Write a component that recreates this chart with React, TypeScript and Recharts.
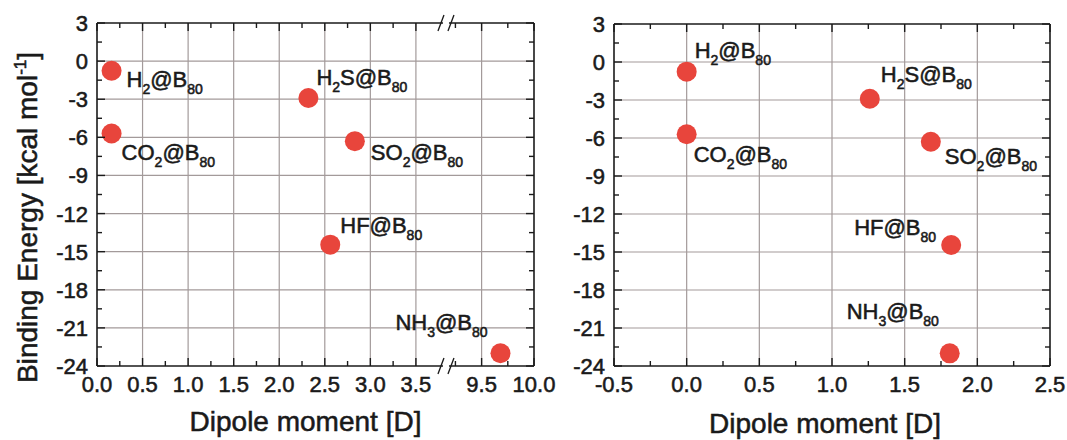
import React from 'react';
import { ScatterChart, Scatter, XAxis, YAxis, ReferenceLine, Label } from 'recharts';

const FONT = '"Liberation Sans", Arial, Helvetica, sans-serif';
const INK = '#1a1a1a';
const GRID = '#a39a9a';
const DOT = '#e8453c';
const TEXT_STROKE = 0.55;

// ---------------- data ----------------
const molecules = ['H2', 'CO2', 'H2S', 'SO2', 'HF', 'NH3'];
const cage = 'B80';
const bindingEnergy = [-0.76, -5.7, -2.9, -6.3, -14.45, -23.0];
const dipoleLeft = [0.16, 0.16, 2.32, 2.83, 2.56, 9.68];
const dipoleRight = [0.0, 0.0, 1.26, 1.68, 1.82, 1.81];

const yMajorTicks = [3, 0, -3, -6, -9, -12, -15, -18, -21, -24];
const yMinorTicks = [1.5, -1.5, -4.5, -7.5, -10.5, -13.5, -16.5, -19.5, -22.5];
const leftXMajorTicks = [0, 0.5, 1, 1.5, 2, 2.5, 3, 3.5, 9.5, 10];
const leftXMinorTicks = [0.25, 0.75, 1.25, 1.75, 2.25, 2.75, 3.25, 9.25, 9.75];
const rightXMajorTicks = [-0.5, 0, 0.5, 1, 1.5, 2, 2.5];
const rightXMinorTicks = [-0.25, 0.25, 0.75, 1.25, 1.75, 2.25];
const leftXDomain = [0, 10];
const rightXDomain = [-0.5, 2.5];
const yDomain = [-24, 3];
const axisBreak = [3.83, 9.16];
const xTitle = 'Dipole moment [D]';
const yTitle = 'Binding Energy [kcal mol';
const yTitleSup = '-1';
const yTitleEnd = ']';

// ---------------- layout / style ----------------
const BREAK_STRETCH = 1.15;
const leftLabelOffsets = [[15, 16], [10, 26], [8, -13], [16, 19], [10, -12], [-105, -23]];
const rightLabelOffsets = [[8, -14], [7, 28], [11, -17], [14, 22], [-97, -10], [-103, -34]];

const toBroken = (v: number) => (v <= axisBreak[0] ? v : axisBreak[0] + (v - axisBreak[1]) * BREAK_STRETCH);
const fromBroken = (t: number) => (t <= axisBreak[0] + 1e-9 ? t : axisBreak[1] + (t - axisBreak[0]) / BREAK_STRETCH);
const near = (a: number, b: number) => Math.abs(a - b) < 1e-6;

const txtStyle = { fontFamily: FONT, fill: INK, stroke: INK, strokeWidth: TEXT_STROKE };

function makeTick(orient: string, majors: number[], fmt?: (v: number) => string, breakAt?: number) {
  return function Tick(props: any) {
    const { x, y, payload } = props;
    const v = payload.value;
    if (breakAt !== undefined && near(v, breakAt)) {
      return (
        <g>
          <rect x={x - 3} y={y - 2.5} width={6} height={5} fill="#fff" />
          <line x1={x - 8} y1={y + 8} x2={x - 2} y2={y - 8} stroke={INK} strokeWidth={1.3} />
          <line x1={x + 2} y1={y + 8} x2={x + 8} y2={y - 8} stroke={INK} strokeWidth={1.3} />
        </g>
      );
    }
    const major = majors.some((m) => near(m, v));
    const len = major ? 8 : 5;
    const st = { stroke: INK, strokeWidth: 1.4 };
    let tick: any = null;
    let label: any = null;
    if (orient === 'bottom') {
      tick = <line x1={x} y1={y} x2={x} y2={y - len} {...st} />;
      if (major && fmt)
        label = (
          <text x={x} y={y + 26} textAnchor="middle" fontSize={22} {...txtStyle}>
            {fmt(v)}
          </text>
        );
    } else if (orient === 'top') {
      tick = <line x1={x} y1={y} x2={x} y2={y + len} {...st} />;
    } else if (orient === 'left') {
      tick = <line x1={x} y1={y} x2={x + len} y2={y} {...st} />;
      if (major && fmt)
        label = (
          <text x={x - 9} y={y + 8} textAnchor="end" fontSize={22} {...txtStyle}>
            {fmt(v)}
          </text>
        );
    } else {
      tick = <line x1={x} y1={y} x2={x - len} y2={y} {...st} />;
    }
    return (
      <g>
        {tick}
        {label}
      </g>
    );
  };
}

function ChemLabel({ x, y, text }: { x: number; y: number; text: string }) {
  const segs = text.split(/(\d+)/).filter(Boolean);
  let shift = 0;
  return (
    <text x={x} y={y} fontSize={22} {...txtStyle}>
      {segs.map((s, i) => {
        const sub = /^\d+$/.test(s);
        const target = sub ? 7 : 0;
        const dy = target - shift;
        shift = target;
        return (
          <tspan key={i} dy={dy} fontSize={sub ? 14 : 22}>
            {s}
          </tspan>
        );
      })}
    </text>
  );
}

function makeShape(offsets: number[][]) {
  return function Dot(props: any) {
    const { cx, cy, payload } = props;
    const off = offsets[payload.idx];
    return (
      <g>
        <circle cx={cx} cy={cy} r={10} fill={DOT} />
        <ChemLabel x={cx + off[0]} y={cy + off[1]} text={payload.name} />
      </g>
    );
  };
}

const Nothing = () => <g />;

const xTitleContent = (dx: number, dy: number) => (props: any) => {
  const vb = props.viewBox;
  return (
    <text x={vb.x + vb.width / 2 + dx} y={vb.y + dy} textAnchor="middle" fontSize={28} {...txtStyle}>
      {xTitle}
    </text>
  );
};

const yTitleContent = (props: any) => {
  const vb = props.viewBox;
  const cx = 37;
  const cy = vb.y + vb.height + 17;
  return (
    <text transform={`translate(${cx}, ${cy}) rotate(-90)`} textAnchor="start" fontSize={28} {...txtStyle}>
      {yTitle}
      <tspan dy={-11} fontSize={17}>
        {yTitleSup}
      </tspan>
      <tspan dy={11}>{yTitleEnd}</tspan>
    </text>
  );
};

const fmt1 = (v: number) => v.toFixed(1);
const fmtY = (v: number) => String(v);

const leftData = molecules.map((m, i) => ({ x: toBroken(dipoleLeft[i]), y: bindingEnergy[i], idx: i, name: `${m}@${cage}` }));
const rightData = molecules.map((m, i) => ({ x: dipoleRight[i], y: bindingEnergy[i], idx: i, name: `${m}@${cage}` }));

const leftMajorT = leftXMajorTicks.map(toBroken);
const leftTicksT = [...leftXMajorTicks, ...leftXMinorTicks].map(toBroken).concat([axisBreak[0]]).sort((a, b) => a - b);
const leftDomainT = [toBroken(leftXDomain[0]), toBroken(leftXDomain[1])];
const yTicks = [...yMajorTicks, ...yMinorTicks].sort((a, b) => a - b);
const rightXTicks = [...rightXMajorTicks, ...rightXMinorTicks].sort((a, b) => a - b);
const yGrid = yMajorTicks.filter((v) => v !== yDomain[0] && v !== yDomain[1]);
const leftXGrid = leftXMajorTicks.filter((v) => v !== leftXDomain[0] && v !== leftXDomain[1]).map(toBroken);
const rightXGrid = rightXMajorTicks.filter((v) => v !== rightXDomain[0] && v !== rightXDomain[1]);

const axisLine = { stroke: INK, strokeWidth: 1.6 };

function Panel({
  width,
  margin,
  xDomain,
  xTicks,
  xMajors,
  xFmt,
  breakAt,
  yWidth,
  xGrid,
  data,
  offsets,
  titleDx,
  titleDy,
  withYTitle,
}: any) {
  return (
    <ScatterChart width={width} height={440} margin={margin}>
      <XAxis
        dataKey="x"
        type="number"
        domain={xDomain}
        ticks={xTicks}
        interval={0}
        height={74}
        tickSize={0}
        tickMargin={0}
        tickLine={false}
        axisLine={axisLine}
        tick={makeTick('bottom', xMajors, xFmt, breakAt)}
        allowDataOverflow
      >
        <Label content={xTitleContent(titleDx, titleDy)} />
      </XAxis>
      <XAxis
        xAxisId="top"
        orientation="top"
        dataKey="x"
        type="number"
        domain={xDomain}
        ticks={xTicks}
        interval={0}
        height={1}
        tickSize={0}
        tickMargin={0}
        tickLine={false}
        axisLine={axisLine}
        tick={makeTick('top', xMajors, undefined, breakAt)}
        allowDataOverflow
      />
      <YAxis
        dataKey="y"
        type="number"
        domain={yDomain}
        ticks={yTicks}
        interval={0}
        width={yWidth}
        tickSize={0}
        tickMargin={0}
        tickLine={false}
        axisLine={axisLine}
        tick={makeTick('left', yMajorTicks, fmtY)}
        allowDataOverflow
      >
        {withYTitle ? <Label content={yTitleContent} /> : null}
      </YAxis>
      <YAxis
        yAxisId="right"
        orientation="right"
        dataKey="y"
        type="number"
        domain={yDomain}
        ticks={yTicks}
        interval={0}
        width={1}
        tickSize={0}
        tickMargin={0}
        tickLine={false}
        axisLine={axisLine}
        tick={makeTick('right', yMajorTicks)}
        allowDataOverflow
      />
      {xGrid.map((v: number) => (
        <ReferenceLine key={'gx' + v} x={v} stroke={GRID} strokeWidth={1.2} />
      ))}
      {yGrid.map((v: number) => (
        <ReferenceLine key={'gy' + v} y={v} stroke={GRID} strokeWidth={1.2} />
      ))}
      <Scatter xAxisId="top" yAxisId="right" data={data} isAnimationActive={false} shape={Nothing} />
      <Scatter data={data} isAnimationActive={false} shape={makeShape(offsets)} />
    </ScatterChart>
  );
}

export default function App() {
  return (
    <div style={{ position: 'absolute', left: 0, top: 0, width: 1067, height: 440, background: '#fff' }}>
      <div style={{ position: 'absolute', left: 0, top: 0 }}>
        <Panel
          width={560}
          margin={{ top: 22, right: 25, bottom: 0, left: 0 }}
          xDomain={leftDomainT}
          xTicks={leftTicksT}
          xMajors={leftMajorT}
          xFmt={(t: number) => fmt1(fromBroken(t))}
          breakAt={axisBreak[0]}
          yWidth={97}
          xGrid={leftXGrid}
          data={leftData}
          offsets={leftLabelOffsets}
          titleDx={-10}
          titleDy={65}
          withYTitle
        />
      </div>
      <div style={{ position: 'absolute', left: 560, top: 0 }}>
        <Panel
          width={507}
          margin={{ top: 23, right: 16, bottom: 0, left: 0 }}
          xDomain={rightXDomain}
          xTicks={rightXTicks}
          xMajors={rightXMajorTicks}
          xFmt={fmt1}
          yWidth={54}
          xGrid={rightXGrid}
          data={rightData}
          offsets={rightLabelOffsets}
          titleDx={-7}
          titleDy={67}
          withYTitle={false}
        />
      </div>
    </div>
  );
}
